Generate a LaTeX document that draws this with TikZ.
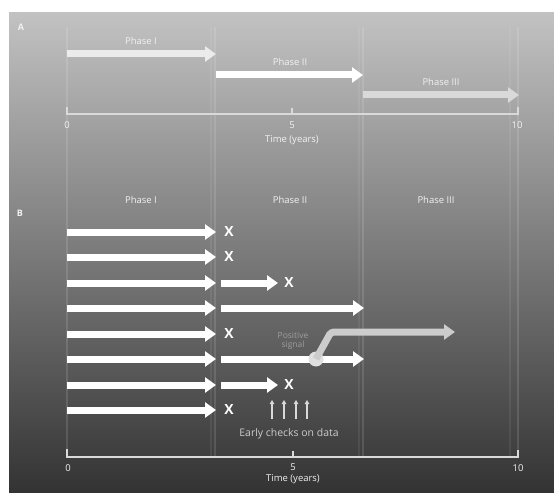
\documentclass[tikz,border=0pt]{standalone}
\usepackage{fontspec}
\setmainfont{Open Sans}
\usetikzlibrary{arrows.meta}
\definecolor{bartext}{gray}{0.95}
\definecolor{softline}{gray}{0.85}
\definecolor{branchgray}{gray}{0.80}
\definecolor{signaltext}{gray}{0.62}
\tikzset{
  bar/.style={draw=white, line width=7bp, line cap=butt,
              -{Triangle[length=11bp,width=15bp]}},
  greybar/.style={bar, draw=branchgray},
  guide/.style={draw=white, opacity=0.12, line width=1.2bp},
  axisline/.style={draw=softline, line width=1.3bp},
  lbl/.style={text=bartext, font=\fontsize{9.5}{11}\selectfont, inner sep=1bp, align=center},
  xmark/.style={text=white, font=\fontsize{14}{14}\selectfont\bfseries, inner sep=0pt},
  check/.style={draw=white!85!black, line width=1.6bp,
                -{Triangle[length=4bp,width=4.5bp]}},
}
\begin{document}
\begin{tikzpicture}[x=1bp,y=-1bp]
\useasboundingbox (0,0) rectangle (554,493);
% backdrop
\shade[top color=black!24, bottom color=black!80] (9,13) rectangle (554,493);

% phase guide lines
\foreach \gx in {67,215,363,518} \draw[guide] (\gx,27) -- (\gx,457);
\foreach \gx in {211,359,510} \draw[guide, opacity=0.07] (\gx,27) -- (\gx,457);

% ---------- panel A ----------
\node[lbl, font=\fontsize{9}{9}\selectfont\bfseries] (tagA) at (21,27) {A};
\coordinate (a0) at (67,114);
\coordinate (a5) at (292,114);
\coordinate (a10) at (518,114);
\draw[axisline] (67,107) -- (a0) -- (a10) -- (518,107);
\draw[axisline] (a5) -- (292,108);
\node[lbl] (na0) at (67,125) {0};
\node[lbl] (na5) at (292,125) {5};
\node[lbl] (na10) at (517,125) {10};
\node[lbl] (timeA) at (292,140) {Time (years)};

\coordinate (p1s) at (67,54);  \coordinate (p1e) at (216,54);
\coordinate (p2s) at (216,75); \coordinate (p2e) at (363,75);
\coordinate (p3s) at (363,95); \coordinate (p3e) at (519,95);
\draw[bar, draw=white!92!black] (p1s) -- (p1e);
\draw[bar] (p2s) -- (p2e);
\draw[greybar, draw=white!85!black] (p3s) -- (p3e);
\node[lbl] (ph1A) at (141,41) {Phase I};
\node[lbl] (ph2A) at (290,62) {Phase II};
\node[lbl] (ph3A) at (441,82) {Phase III};

% ---------- panel B ----------
\node[lbl, font=\fontsize{9}{9}\selectfont\bfseries] (tagB) at (20,213) {B};
\node[lbl] (ph1B) at (141,200) {Phase I};
\node[lbl] (ph2B) at (290,200) {Phase II};
\node[lbl] (ph3B) at (436,200) {Phase III};

% phase I trials
\foreach \i/\y in {1/232,2/257,3/283,4/308,5/334,6/359,7/385,8/410} {
  \coordinate (s\i) at (67,\y);
  \coordinate (e\i) at (216,\y);
  \draw[bar] (s\i) -- (e\i);
}

% stopped after phase I
\node[xmark] (x1) at (229,232) {X};
\node[xmark] (x2) at (229,257) {X};
\node[xmark] (x5) at (229,334) {X};
\node[xmark] (x8) at (229,410) {X};

% phase II trials
\coordinate (t3) at (221,283); \coordinate (u3) at (278,283);
\coordinate (t4) at (221,308); \coordinate (u4) at (364,308);
\coordinate (t6) at (221,359); \coordinate (u6) at (364,359);
\coordinate (t7) at (221,385); \coordinate (u7) at (278,385);
\draw[bar] (t3) -- (u3);
\draw[bar] (t4) -- (u4);
\draw[bar] (t6) -- (u6);
\draw[bar] (t7) -- (u7);
\node[xmark] (x3) at (289,283) {X};
\node[xmark] (x7) at (289,385) {X};

% branch on a positive signal
\node[circle, fill=white!88!black, minimum size=15bp, inner sep=0pt] (sig) at (316,359) {};
\coordinate (bend) at (331,332);
\coordinate (bend2) at (455,332);
\draw[greybar, rounded corners=3bp] (sig.center) -- (bend) -- (bend2);
\node[lbl, text=signaltext, font=\fontsize{8.5}{9.5}\selectfont] (pos) at (293,341) {Positive\\signal};

% early data checks
\foreach \k/\cx in {1/272,2/284,3/296,4/307} {
  \coordinate (cb\k) at (\cx,419);
  \coordinate (ct\k) at (\cx,400);
  \draw[check] (cb\k) -- (ct\k);
}
\node[lbl, text=white!80!black, font=\fontsize{10.5}{12}\selectfont] (early) at (289,434) {Early checks on data};

% time axis B
\coordinate (b0) at (67,457);
\coordinate (b5) at (293,457);
\coordinate (b10) at (518,457);
\draw[axisline] (67,449) -- (b0) -- (b10) -- (518,450);
\draw[axisline] (b5) -- (293,451);
\node[lbl] (nb0) at (68,468) {0};
\node[lbl] (nb5) at (293,467) {5};
\node[lbl] (nb10) at (518,468) {10};
\node[lbl] (timeB) at (293,479) {Time (years)};
\end{tikzpicture}
\end{document}
